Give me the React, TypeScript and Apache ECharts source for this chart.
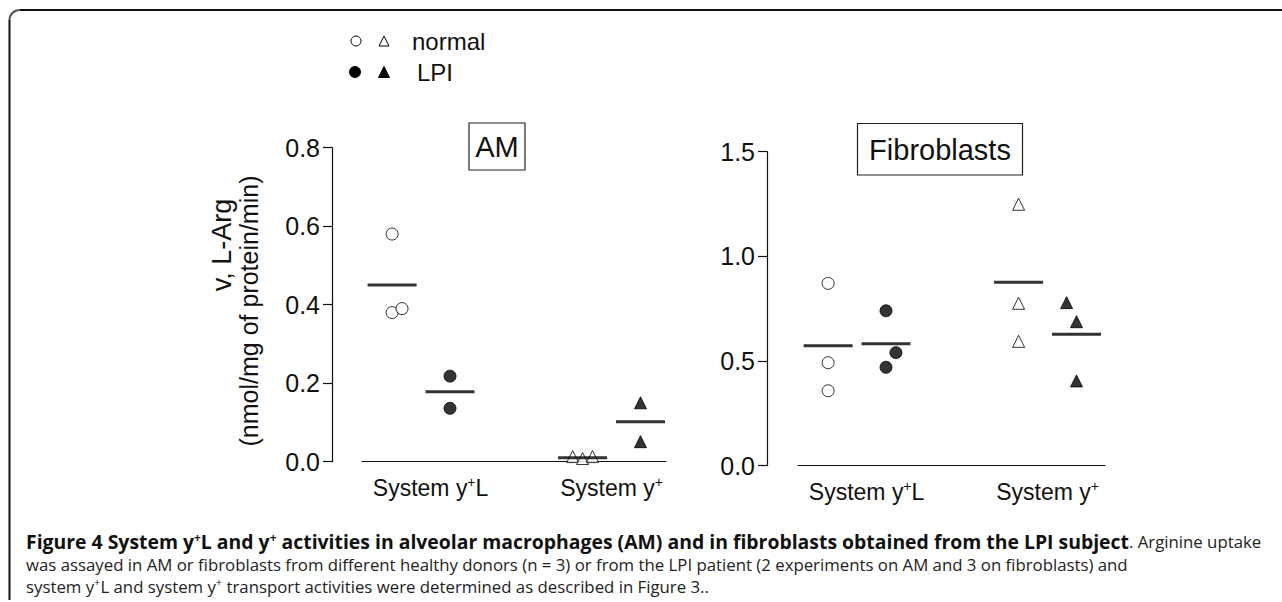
import React, { useEffect, useRef } from "react";
import * as echarts from "echarts";

// ---------- data ----------
const categoryLabels = ["{t|System y}{s|+}{t|L}", "{t|System y}{s|+}"];
const yTicksAM = [0, 0.2, 0.4, 0.6, 0.8];
const yTicksFB = [0, 0.5, 1.0, 1.5];

// AM (alveolar macrophages)
const amNormalYL = [0.58, 0.38, 0.39];
const amLpiYL = [0.218, 0.136];
const amNormalY = [0.013, 0.008, 0.013];
const amLpiY = [0.15, 0.051];
const amMeanNormal = [0.45, 0.01];
const amMeanLpi = [0.178, 0.102];

// Fibroblasts
const fbNormalYL = [0.871, 0.492, 0.358];
const fbLpiYL = [0.74, 0.54, 0.47];
const fbNormalY = [1.249, 0.776, 0.594];
const fbLpiY = [0.779, 0.688, 0.405];
const fbMeanNormal = [0.573, 0.876];
const fbMeanLpi = [0.583, 0.628];

// ---------- layout ----------
const FONT = "'Liberation Sans', Arial, sans-serif";
const CAP_FONT = "'Open Sans', 'Noto Sans', sans-serif";
const UNIT = 190.5; // px per category step
const X_MIN = -0.31;
const SIDE = 0.152; // normal / LPI offset from category centre
const J = 0.052; // jitter step
const amJit = { nYL: [0, 0, J], lYL: [0, 0], nY: [-J, 0, J], lY: [0, 0] };
const fbJit = { nYL: [0, 0, 0], lYL: [0, J, 0], nY: [0, 0, 0], lY: [-J, 0, 0] };

const pts = (vals: number[], cat: number, side: number, jit: number[]) =>
  vals.map((v, i) => [cat + side * SIDE + (jit[i] || 0), v]);

const openStyle = { color: "#fff", borderColor: "#000", borderWidth: 1 };
const fillStyle = { color: "#000", borderColor: "#000", borderWidth: 1 };

function panelSeries(
  gi: number,
  nYL: number[], lYL: number[], nY: number[], lY: number[],
  mN: number[], mL: number[], jit: any
) {
  const base = { type: "scatter", xAxisIndex: gi, yAxisIndex: gi, silent: true };
  return [
    { ...base, symbol: "circle", symbolSize: 12, itemStyle: openStyle, data: pts(nYL, 0, -1, jit.nYL) },
    { ...base, symbol: "circle", symbolSize: 12, itemStyle: fillStyle, data: pts(lYL, 0, 1, jit.lYL) },
    { ...base, symbol: "triangle", symbolSize: 12, itemStyle: openStyle, data: pts(nY, 1, -1, jit.nY) },
    { ...base, symbol: "triangle", symbolSize: 12, itemStyle: fillStyle, data: pts(lY, 1, 1, jit.lY) },
    {
      ...base, symbol: "rect", symbolSize: [49, 3], z: 5,
      itemStyle: { color: "#000" },
      data: [
        ...mN.map((v, c) => [c - SIDE, v]),
        ...mL.map((v, c) => [c + SIDE, v]),
      ],
    },
  ];
}

function xAxis(gi: number, width: number) {
  return {
    type: "value", gridIndex: gi, min: X_MIN, max: X_MIN + width / UNIT,
    axisLine: { show: true, onZero: false, lineStyle: { color: "#111", width: 1.2 } },
    axisTick: { show: false }, splitLine: { show: false },
    axisLabel: {
      customValues: [0.05, 1], margin: 13,
      formatter: (v: number) => (v < 0.5 ? categoryLabels[0] : categoryLabels[1]),
      rich: {
        t: { fontFamily: FONT, fontSize: 23, color: "#111", lineHeight: 26 },
        s: { fontFamily: FONT, fontSize: 14, color: "#111", verticalAlign: "top", lineHeight: 14 },
      },
    },
  };
}

function yAxis(gi: number, ticks: number[], offset: number) {
  return {
    type: "value", gridIndex: gi, min: ticks[0], max: ticks[ticks.length - 1],
    interval: ticks[1] - ticks[0], offset,
    axisLine: { show: true, onZero: false, lineStyle: { color: "#111", width: 1.2 } },
    axisTick: { show: true, length: 9, lineStyle: { color: "#111", width: 1.2 } },
    splitLine: { show: false },
    axisLabel: { formatter: (v: number) => v.toFixed(1), fontFamily: FONT, fontSize: 25, color: "#111", margin: 12 },
  };
}

const tri = (cx: number, cy: number, s: number) => [
  [cx, cy - s / 2], [cx + s / 2, cy + s / 2], [cx - s / 2, cy + s / 2],
];

export default function App() {
  const ref = useRef<HTMLDivElement>(null);
  useEffect(() => {
    if (!ref.current) return;
    const chart = echarts.init(ref.current, undefined, { renderer: "svg" });
    const txt = (x: number, y: number, text: string, size: number, extra: any = {}) => ({
      type: "text", x, y,
      style: { text, fontFamily: FONT, fontSize: size, fill: "#111", align: "left", verticalAlign: "middle", ...extra },
    });
    const capRich = {
      b: { fontFamily: CAP_FONT, fontSize: 19.4, fontWeight: "bold", fill: "#111", lineHeight: 20 },
      bs: { fontFamily: CAP_FONT, fontSize: 12, fontWeight: "bold", fill: "#111", verticalAlign: "top", lineHeight: 12 },
      r: { fontFamily: CAP_FONT, fontSize: 16.8, fill: "#222", lineHeight: 20 },
      rs: { fontFamily: CAP_FONT, fontSize: 11, fill: "#222", verticalAlign: "top", lineHeight: 12 },
    };
    const capLine = (y: number, text: string) => ({
      type: "text", x: 26, y,
      style: { text, rich: capRich, align: "left", verticalAlign: "middle" },
    });
    chart.setOption({
      animation: false,
      grid: [
        { left: 362, top: 147.7, width: 304, height: 314, outerBoundsMode: "none" },
        { left: 798, top: 151.7, width: 307, height: 314, outerBoundsMode: "none" },
      ],
      xAxis: [xAxis(0, 304), xAxis(1, 307)],
      yAxis: [yAxis(0, yTicksAM, 30), yAxis(1, yTicksFB, 31)],
      series: [
        ...panelSeries(0, amNormalYL, amLpiYL, amNormalY, amLpiY, amMeanNormal, amMeanLpi, amJit),
        ...panelSeries(1, fbNormalYL, fbLpiYL, fbNormalY, fbLpiY, fbMeanNormal, fbMeanLpi, fbJit),
      ],
      graphic: [
        // frame
        { type: "line", shape: { x1: 19.5, y1: 10, x2: 1282, y2: 10 }, style: { stroke: "#111", lineWidth: 2 } },
        { type: "arc", shape: { cx: 19.5, cy: 20, r: 10, startAngle: Math.PI, endAngle: Math.PI * 1.5 }, style: { stroke: "#555", lineWidth: 2, fill: "none" } },
        { type: "line", shape: { x1: 9.5, y1: 20, x2: 9.5, y2: 600 }, style: { stroke: "#111", lineWidth: 2 } },
        // legend
        { type: "circle", shape: { cx: 356, cy: 41, r: 5 }, style: { fill: "#fff", stroke: "#000", lineWidth: 1 } },
        { type: "polygon", shape: { points: tri(384, 41, 10) }, style: { fill: "#fff", stroke: "#000", lineWidth: 1 } },
        txt(412, 41, "normal", 24),
        { type: "circle", shape: { cx: 355, cy: 72, r: 5.5 }, style: { fill: "#000", stroke: "#000", lineWidth: 1 } },
        { type: "polygon", shape: { points: tri(384, 72, 11) }, style: { fill: "#000", stroke: "#000", lineWidth: 1 } },
        txt(417, 72, "LPI", 24),
        // panel titles
        { type: "rect", shape: { x: 469, y: 123, width: 56, height: 47 }, style: { fill: "#fff", stroke: "#222", lineWidth: 1.2 } },
        txt(497, 147, "AM", 29, { align: "center" }),
        { type: "rect", shape: { x: 857.5, y: 123.5, width: 165, height: 51.5 }, style: { fill: "#fff", stroke: "#222", lineWidth: 1.2 } },
        txt(940, 150, "Fibroblasts", 29, { align: "center" }),
        // y-axis names
        { ...txt(0, 0, "v, L-Arg", 27, { align: "center" }), x: 222, y: 245, rotation: Math.PI / 2 },
        { ...txt(0, 0, "(nmol/mg of protein/min)", 25, { align: "center" }), x: 249, y: 311, rotation: Math.PI / 2 },
        // caption
        capLine(541, "{b|Figure 4 System y}{bs|+}{b|L and y}{bs|+}{b| activities in alveolar macrophages (AM) and in fibroblasts obtained from the LPI subject}{r|. Arginine uptake}"),
        capLine(564, "{r|was assayed in AM or fibroblasts from different healthy donors (n = 3) or from the LPI patient (2 experiments on AM and 3 on fibroblasts) and}"),
        capLine(586, "{r|system y}{rs|+}{r|L and system y}{rs|+}{r| transport activities were determined as described in Figure 3..}"),
      ],
    });
    return () => chart.dispose();
  }, []);
  return (
    <div
      ref={ref}
      style={{ position: "fixed", left: 0, top: 0, width: 1282, height: 602, background: "#fff" }}
    />
  );
}
